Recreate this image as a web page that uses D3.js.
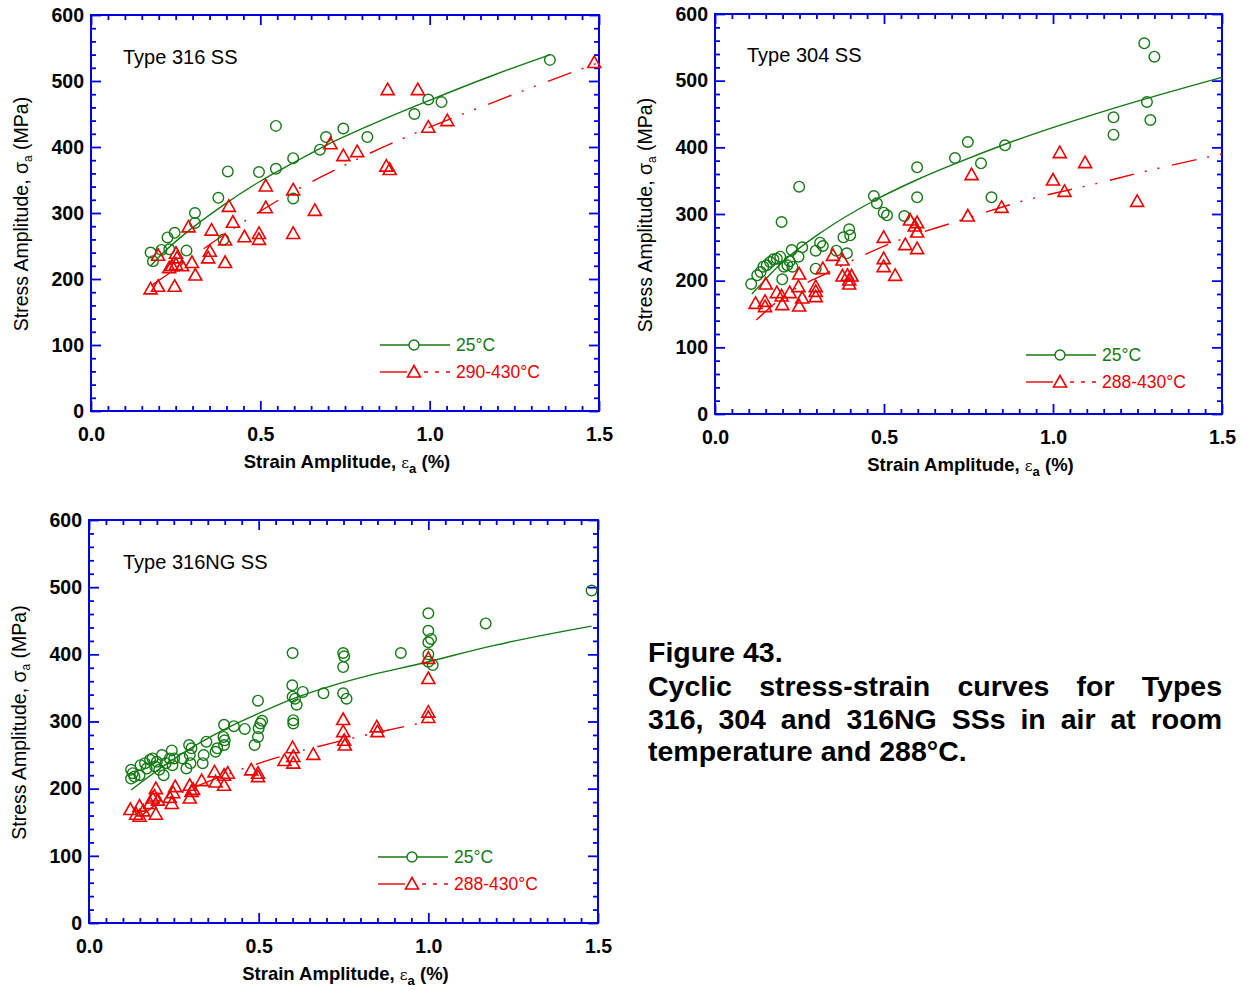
<!DOCTYPE html>
<html><head><meta charset="utf-8">
<script src="https://cdn.jsdelivr.net/npm/d3@7"></script>
<style>body{margin:0;background:#fff;} svg{display:block;font-family:"Liberation Sans",Arial,sans-serif;}</style>
</head><body>
<svg id="c" width="1244" height="991"></svg>
<script>
// ---------- tick values / labels ----------
const xMajorTicks = [0, 0.5, 1.0, 1.5];
const xTickLabels = ["0.0", "0.5", "1.0", "1.5"];
const yMajorTicks = [0, 100, 200, 300, 400, 500, 600];
const yTickLabels = ["0", "100", "200", "300", "400", "500", "600"];
const xMinorStep = 0.05, yMinorStep = 20;

// ---------- Type 316 SS ----------
const p1GreenPts = [[0.176,240],[0.183,227],[0.208,244],[0.226,263],[0.231,245],[0.247,270],[0.282,243],[0.307,300],[0.307,285],[0.376,323],[0.391,260],[0.404,363],[0.496,362],[0.546,367],[0.546,432],[0.597,383],[0.597,322],[0.676,396],[0.694,415],[0.745,428],[0.816,415],[0.955,450],[0.996,472],[1.035,468],[1.355,532]];
const p1RedPts = [[0.176,185],[0.198,189],[0.198,236],[0.247,189],[0.231,217],[0.239,220],[0.251,222],[0.251,239],[0.254,232],[0.269,220],[0.288,279],[0.298,225],[0.308,206],[0.346,232],[0.351,242],[0.356,274],[0.396,259],[0.396,225],[0.407,310],[0.419,286],[0.453,264],[0.496,269],[0.496,260],[0.516,341],[0.516,308],[0.597,335],[0.597,269],[0.661,304],[0.707,405],[0.745,387],[0.786,393],[0.872,371],[0.882,366],[0.876,487],[0.965,487],[0.996,430],[1.052,440],[1.486,528]];
const p1GreenCurveX = [0.176,0.218,0.269,0.391,0.496,0.597,0.696,0.828,0.996,1.184,1.357];
const p1GreenCurveY = [220,242,265,312,347,376,403,434,470,508,540];
const p1RedCurveX = [0.178,0.229,0.401,0.589,0.788,0.981,1.169,1.357,1.5];
const p1RedCurveY = [190,208,270,330,382,426,464,501,528];

// ---------- Type 304 SS ----------
const p2GreenPts = [[0.107,195],[0.125,208],[0.135,213],[0.143,221],[0.153,223],[0.163,228],[0.173,232],[0.183,233],[0.193,236],[0.199,202],[0.197,288],[0.204,221],[0.214,223],[0.221,229],[0.229,221],[0.227,246],[0.247,236],[0.249,341],[0.258,250],[0.298,245],[0.298,218],[0.311,257],[0.319,252],[0.359,245],[0.380,265],[0.390,241],[0.397,277],[0.400,268],[0.470,327],[0.479,316],[0.499,302],[0.509,298],[0.560,297],[0.598,370],[0.598,325],[0.710,384],[0.748,408],[0.787,376],[0.818,325],[0.858,403],[1.179,445],[1.179,419],[1.270,556],[1.278,468],[1.288,441],[1.300,536]];
const p2RedPts = [[0.120,166],[0.148,169],[0.148,161],[0.150,195],[0.183,182],[0.197,177],[0.199,164],[0.221,182],[0.247,191],[0.249,210],[0.249,162],[0.258,174],[0.298,191],[0.298,184],[0.298,176],[0.319,218],[0.349,238],[0.377,231],[0.377,207],[0.392,208],[0.397,201],[0.397,195],[0.404,207],[0.499,265],[0.499,233],[0.499,221],[0.533,208],[0.563,254],[0.577,291],[0.591,282],[0.598,287],[0.598,273],[0.598,248],[0.759,359],[0.748,297],[0.848,310],[1.000,351],[1.020,392],[1.034,334],[1.095,377],[1.249,319]];
const p2GreenCurveX = [0.109,0.209,0.316,0.474,0.596,0.718,0.860,1.176,1.5];
const p2GreenCurveY = [180,232,273,321,351,377,405,458,505];
const p2RedCurveX = [0.122,0.2,0.346,0.53,0.698,0.922,1.115,1.298,1.5];
const p2RedCurveY = [141,175,215,258,286,321,344,367,390];

// ---------- Type 316NG SS ----------
const p3GreenPts = [[0.124,215],[0.129,223],[0.124,228],[0.134,218],[0.149,220],[0.152,235],[0.165,238],[0.170,230],[0.180,243],[0.187,245],[0.195,233],[0.200,240],[0.207,228],[0.215,250],[0.220,220],[0.226,238],[0.238,245],[0.244,257],[0.246,235],[0.251,245],[0.276,245],[0.287,230],[0.295,265],[0.297,250],[0.299,238],[0.302,260],[0.335,238],[0.338,250],[0.346,270],[0.373,255],[0.378,260],[0.396,277],[0.398,295],[0.398,265],[0.400,272],[0.427,293],[0.459,289],[0.488,265],[0.498,277],[0.498,331],[0.500,290],[0.505,297],[0.510,301],[0.600,402],[0.599,354],[0.600,337],[0.602,302],[0.602,297],[0.607,334],[0.612,325],[0.630,344],[0.691,342],[0.749,402],[0.752,397],[0.749,381],[0.749,342],[0.759,334],[0.919,402],[1.000,461],[1.000,435],[1.000,418],[1.008,423],[1.000,400],[1.000,389],[1.013,384],[1.169,446],[1.481,495]];
const p3RedPts = [[0.122,169],[0.139,162],[0.149,174],[0.149,159],[0.160,167],[0.180,178],[0.187,186],[0.193,189],[0.197,200],[0.197,162],[0.203,183],[0.238,187],[0.244,178],[0.248,194],[0.254,203],[0.297,205],[0.297,186],[0.302,196],[0.307,199],[0.332,212],[0.370,225],[0.373,210],[0.398,205],[0.398,220],[0.409,223],[0.478,228],[0.498,223],[0.498,218],[0.576,242],[0.600,261],[0.602,248],[0.602,238],[0.661,251],[0.749,303],[0.749,285],[0.752,272],[0.754,265],[0.848,292],[0.850,285],[1.000,314],[1.000,306],[1.000,364],[1.000,394]];
const p3GreenCurveX = [0.124,0.246,0.398,0.5,0.602,0.754,1.0,1.191,1.481];
const p3GreenCurveY = [198,243,288,312,334,359,389,413,442];
const p3RedCurveX = [0.15,0.2,0.3,0.4,0.546,0.75,1.0];
const p3RedCurveY = [158,177,200,220,245,272,300];

const panelTitles = ["Type 316 SS", "Type 304 SS", "Type 316NG SS"];
const legendLabels = [["25°C","290-430°C"],["25°C","288-430°C"],["25°C","288-430°C"]];
const captionLines = ["Figure 43.", "Cyclic stress-strain curves for Types", "316, 304 and 316NG SSs in air at room", "temperature and 288°C."];

// ---------- styles ----------
const GREEN = "#137a13", RED = "#ee0000", BLUE = "#0000e0";
const svg = d3.select("#c");
const triPath = "M0,-6.5L6.5,5L-6.5,5Z";

function drawPanel(cfg) {
  const x = d3.scaleLinear().domain([0, 1.5]).range([cfg.l, cfg.r]);
  const y = d3.scaleLinear().domain([0, 600]).range([cfg.b, cfg.t]);
  const g = svg.append("g");
  const xMinor = d3.range(0, 1.5001, xMinorStep).filter(v => Math.abs(v/0.5 - Math.round(v/0.5)) > 1e-6);
  const yMinor = d3.range(0, 600.001, yMinorStep).filter(v => v % 100 !== 0);
  const clean = s => { s.select(".domain").remove(); s.selectAll("line").attr("stroke", BLUE).attr("stroke-width", 1.8); };

  const axes = [
    [d3.axisBottom(x), `translate(0,${cfg.b})`, xMinor, xMajorTicks],
    [d3.axisTop(x), `translate(0,${cfg.t})`, xMinor, xMajorTicks],
    [d3.axisLeft(y), `translate(${cfg.l},0)`, yMinor, yMajorTicks],
    [d3.axisRight(y), `translate(${cfg.r},0)`, yMinor, yMajorTicks]
  ];
  axes.forEach(([ax, tr, minor, major]) => {
    g.append("g").attr("transform", tr)
      .call(ax.tickValues(minor).tickSizeInner(-5).tickSizeOuter(0).tickFormat(""))
      .call(clean);
    g.append("g").attr("transform", tr)
      .call(ax.tickValues(major).tickSizeInner(-10).tickSizeOuter(0).tickFormat(""))
      .call(clean);
  });

  const lblStyle = s => { s.select(".domain").remove(); s.selectAll("text").attr("font-size", 19.5).attr("font-weight", "bold").attr("fill", "#000").attr("font-family", "Liberation Sans, Arial"); };
  g.append("g").attr("transform", `translate(0,${cfg.b})`)
    .call(d3.axisBottom(x).tickValues(xMajorTicks).tickSize(0).tickPadding(16)
      .tickFormat((d, i) => xTickLabels[i]))
    .call(lblStyle);
  g.append("g").attr("transform", `translate(${cfg.l},0)`)
    .call(d3.axisLeft(y).tickValues(yMajorTicks).tickSize(0).tickPadding(7)
      .tickFormat((d, i) => yTickLabels[i]))
    .call(lblStyle);

  g.append("rect").attr("x", cfg.l).attr("y", cfg.t).attr("width", cfg.r - cfg.l).attr("height", cfg.b - cfg.t)
    .attr("fill", "none").attr("stroke", BLUE).attr("stroke-width", 2);

  // axis titles
  const xt = g.append("text").attr("x", (cfg.l + cfg.r) / 2 + 2).attr("y", cfg.b + 57)
    .attr("text-anchor", "middle").attr("font-size", 18.5).attr("font-weight", "bold");
  xt.append("tspan").text("Strain Amplitude, ");
  xt.append("tspan").text("ε").attr("font-family", "DejaVu Serif").attr("font-weight", "normal").attr("font-size", 15);
  xt.append("tspan").text("a").attr("font-size", 13).attr("dy", 5);
  xt.append("tspan").text(" (%)").attr("dy", -5);

  const yt = g.append("text").attr("transform", `translate(${cfg.l - 63},${(cfg.t + cfg.b) / 2 + 1}) rotate(-90)`)
    .attr("text-anchor", "middle").attr("font-size", 19.5);
  yt.append("tspan").text("Stress Amplitude, σ");
  yt.append("tspan").text("a").attr("font-size", 12).attr("dy", 4);
  yt.append("tspan").text(" (MPa)").attr("dy", -4);

  g.append("text").attr("x", cfg.titleX).attr("y", cfg.titleY).attr("dy", "0.35em")
    .attr("font-size", 20).text(cfg.title);

  const line = d3.line().x(d => x(d[0])).y(d => y(d[1])).curve(d3.curveMonotoneX);
  const gc = d3.zip(cfg.gcx, cfg.gcy), rc = d3.zip(cfg.rcx, cfg.rcy);
  g.append("path").attr("d", line(gc)).attr("fill", "none").attr("stroke", GREEN).attr("stroke-width", 1.4);
  g.append("path").attr("d", line(rc)).attr("fill", "none").attr("stroke", RED).attr("stroke-width", 1.4)
    .attr("stroke-dasharray", "25,11,2,11,2,13");

  g.append("g").selectAll("circle").data(cfg.green).join("circle")
    .attr("cx", d => x(d[0])).attr("cy", d => y(d[1])).attr("r", 5.3)
    .attr("fill", "none").attr("stroke", GREEN).attr("stroke-width", 1.4);
  g.append("g").selectAll("path").data(cfg.red).join("path")
    .attr("d", triPath).attr("transform", d => `translate(${x(d[0])},${y(d[1])})`)
    .attr("fill", "none").attr("stroke", RED).attr("stroke-width", 1.6);

  const L = cfg.legX, r1 = cfg.legY1, r2 = cfg.legY2;
  g.append("line").attr("x1", L).attr("x2", L + 70).attr("y1", r1).attr("y2", r1).attr("stroke", GREEN).attr("stroke-width", 1.4);
  g.append("circle").attr("cx", L + 34).attr("cy", r1).attr("r", 5).attr("fill", "#fff").attr("stroke", GREEN).attr("stroke-width", 1.4);
  g.append("text").attr("x", L + 76).attr("y", r1).attr("dy", "0.36em").attr("font-size", 17.5).attr("fill", GREEN).text(cfg.leg[0]);
  g.append("line").attr("x1", L).attr("x2", L + 27).attr("y1", r2).attr("y2", r2).attr("stroke", RED).attr("stroke-width", 1.4);
  g.append("path").attr("d", triPath).attr("transform", `translate(${L + 34},${r2})`).attr("fill", "none").attr("stroke", RED).attr("stroke-width", 1.6);
  g.append("line").attr("x1", L + 44).attr("x2", L + 70).attr("y1", r2).attr("y2", r2).attr("stroke", RED).attr("stroke-width", 1.4).attr("stroke-dasharray", "4,7");
  g.append("text").attr("x", L + 76).attr("y", r2).attr("dy", "0.36em").attr("font-size", 17.5).attr("fill", RED).text(cfg.leg[1]);
}

drawPanel({l: 91, r: 599, t: 15, b: 411, title: panelTitles[0], titleX: 123, titleY: 57,
  green: p1GreenPts, red: p1RedPts, gcx: p1GreenCurveX, gcy: p1GreenCurveY, rcx: p1RedCurveX, rcy: p1RedCurveY,
  leg: legendLabels[0], legX: 380, legY1: 345, legY2: 372});
drawPanel({l: 715, r: 1222, t: 14, b: 414, title: panelTitles[1], titleX: 747, titleY: 55,
  green: p2GreenPts, red: p2RedPts, gcx: p2GreenCurveX, gcy: p2GreenCurveY, rcx: p2RedCurveX, rcy: p2RedCurveY,
  leg: legendLabels[1], legX: 1026, legY1: 355, legY2: 382});
drawPanel({l: 89, r: 598, t: 520, b: 923, title: panelTitles[2], titleX: 123, titleY: 562,
  green: p3GreenPts, red: p3RedPts, gcx: p3GreenCurveX, gcy: p3GreenCurveY, rcx: p3RedCurveX, rcy: p3RedCurveY,
  leg: legendLabels[2], legX: 378, legY1: 857, legY2: 884});

// ---------- caption (justified) ----------
const capL = 648, capR = 1222, capY = [652, 686, 719, 751];
const cap = svg.append("g").attr("font-size", 28.5).attr("font-weight", "bold").attr("fill", "#000");
captionLines.forEach((ln, i) => {
  const justify = (i === 1 || i === 2);
  if (!justify) {
    cap.append("text").attr("x", capL).attr("y", capY[i]).attr("dy", "0.36em").text(ln);
    return;
  }
  const words = ln.split(" ");
  const tmp = words.map(w => cap.append("text").attr("y", capY[i]).attr("dy", "0.36em").text(w));
  const widths = tmp.map(t => t.node().getComputedTextLength());
  const total = d3.sum(widths);
  const gap = (capR - capL - total) / (words.length - 1);
  let cx = capL;
  tmp.forEach((t, k) => { t.attr("x", cx); cx += widths[k] + gap; });
});
</script>
</body></html>
